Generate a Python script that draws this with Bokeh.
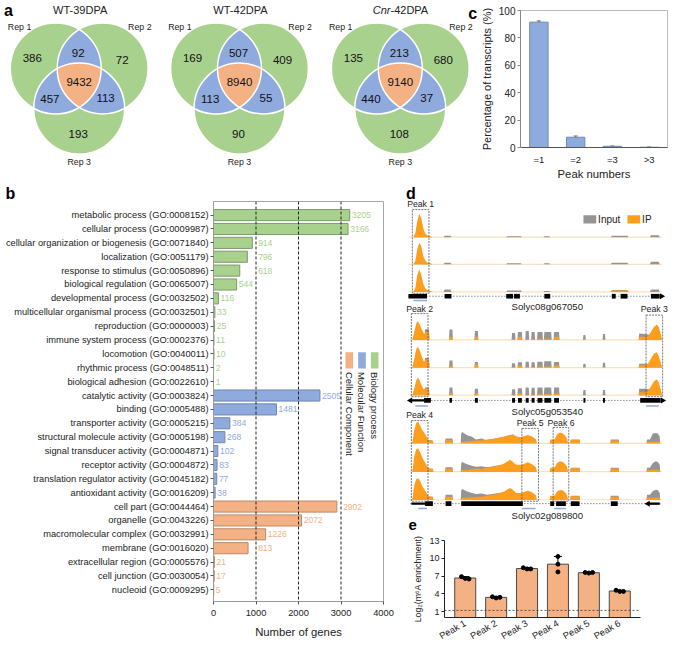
import numpy as np
from bokeh.plotting import figure
from bokeh.models import (Range1d, FactorRange, Span, FixedTicker, Whisker,
                          ColumnDataSource, TeeHead)
from bokeh.layouts import row, column
from bokeh.embed import file_html
from bokeh.resources import INLINE
from bokeh.core.properties import value

FONT = "Liberation Sans"
GREEN, BLUE, ORANGE = "#a9d18e", "#8faadc", "#f4b183"
GREEN_EDGE, BLUE_EDGE, ORANGE_EDGE = "#7e9a6c", "#6f86b0", "#b98a68"
IP_COLOR, INPUT_COLOR, BASE_COLOR = "#ff9d1c", "#959595", "#fbe0bd"

# ======================= DATA =======================
# ---- a: Venn diagrams (regions: only Rep1, only Rep2, only Rep3, Rep1&2, Rep1&3, Rep2&3, all)
VENN_TITLE_ITALIC = ["", "", "Cnr"]
VENN_TITLE_REST = ["WT-39DPA", "WT-42DPA", "-42DPA"]
VENN_REP_LABELS = ["Rep 1", "Rep 2", "Rep 3"]
VENN_WT_39DPA = [386, 72, 193, 92, 457, 113, 9432]
VENN_WT_42DPA = [169, 409, 90, 507, 113, 55, 8940]
VENN_CNR_42DPA = [135, 680, 108, 213, 440, 37, 9140]

# ---- b: GO classification
GO_TERMS = ["metabolic process", "cellular process", "cellular organization or biogenesis",
            "localization", "response to stimulus", "biological regulation",
            "developmental process", "multicellular organismal process", "reproduction",
            "immune system process", "locomotion", "rhythmic process", "biological adhesion",
            "catalytic activity", "binding", "transporter activity",
            "structural molecule activity", "signal transducer activity", "receptor activity",
            "translation regulator activity", "antioxidant activity",
            "cell part", "organelle", "macromolecular complex", "membrane",
            "extracellular region", "cell junction", "nucleoid"]
GO_IDS = ["GO:0008152", "GO:0009987", "GO:0071840", "GO:0051179", "GO:0050896", "GO:0065007",
          "GO:0032502", "GO:0032501", "GO:0000003", "GO:0002376", "GO:0040011", "GO:0048511",
          "GO:0022610", "GO:0003824", "GO:0005488", "GO:0005215", "GO:0005198", "GO:0004871",
          "GO:0004872", "GO:0045182", "GO:0016209", "GO:0044464", "GO:0043226", "GO:0032991",
          "GO:0016020", "GO:0005576", "GO:0030054", "GO:0009295"]
GO_GENES = [3205, 3166, 914, 796, 618, 544, 116, 33, 25, 11, 10, 2, 1,
            2505, 1481, 384, 268, 102, 83, 77, 38,
            2902, 2072, 1226, 813, 21, 17, 5]
GO_CLASS = ["BP"] * 13 + ["MF"] * 8 + ["CC"] * 7
GO_CLASS_LEGEND = ["CC", "MF", "BP"]
GO_CLASS_NAMES = {"CC": "Cellular Component", "MF": "Molecular Function", "BP": "Biology process"}
GO_GRID = [1000, 2000, 3000]

# ---- c: peaks per transcript
PEAK_NUMBERS = ["=1", "=2", "=3", ">3"]
PCT_TRANSCRIPTS = [91.5, 7.5, 0.9, 0.2]
PCT_SD = [0.9, 0.9, 0.2, 0.1]

# ---- d: coverage tracks (3 replicates each, IP and Input)
G1_X = [0, 7, 8, 10, 12, 14, 16, 18, 20, 22, 25, 28,
        39, 40, 46, 47, 103, 104, 118, 119, 141, 142, 147, 148,
        210, 211, 227, 228, 250, 251, 259, 260, 270]
G1_IP = [
    [0, 0, 0, 4, 16, 24, 20, 10, 4, 2, 1, 0, 0, 0, 0, 0, 0, 0, 0, 0, 0, 0, 0, 0, 0, 0, 0, 0, 0, 0, 0, 0, 0],
    [0, 0, 0, 3, 15, 22, 19, 9, 4, 2, 1, 0, 0, 0, 0, 0, 0, 0, 0, 0, 0, 0, 0, 0, 0, 0, 0, 0, 0, 0, 0, 0, 0],
    [0, 0, 0, 4, 17, 23, 18, 9, 4, 2, 1, 0, 0, 0, 0, 0, 0, 0, 0, 0, 0, 0, 0, 0, 0, 1.5, 1.5, 0, 0, 0, 0, 0, 0],
]
G1_IN = [
    [0, 0, 0, 0.5, 1, 1, 1, 1, 1, 1, 0.5, 0, 0, 1.5, 1.5, 0, 0, 1, 1, 0, 0, 1, 1, 0, 0, 1.5, 1.5, 0, 0, 2, 2, 0, 0],
    [0, 0, 0, 0.5, 1, 1, 1, 1, 1, 1, 0.5, 0, 0, 1.5, 1.5, 0, 0, 1, 1, 0, 0, 1, 1, 0, 0, 1.5, 1.5, 0, 0, 2.5, 2.5, 0, 0],
    [0, 0, 0, 0.5, 1, 1, 1, 1, 1, 1, 0.5, 0, 0, 2.5, 2.5, 0, 0, 1.5, 1.5, 0, 0, 1, 1, 0, 0, 2, 2, 0, 0, 2.5, 2.5, 0, 0],
]
G2_X = [0, 6, 7, 9, 11, 12.5, 14, 16, 18, 19.5, 20, 24, 24.5,
        44.5, 45, 48, 48.5, 70.5, 71, 74, 74.5, 108.5, 109, 112, 112.5,
        114.5, 115, 119, 119.5, 122.5, 123, 126, 126.5, 128.5, 129, 132, 132.5,
        134.5, 135, 140, 140.5, 141.5, 142, 149, 149.5, 151.5, 152, 157, 157.5,
        181.5, 182, 184, 184.5, 201.5, 202, 204, 204.5,
        238.5, 239, 245, 248, 251, 254, 257, 259, 261, 262.5, 270]
G2_IP = [
    [0, 0, 0, 8, 17, 19, 17, 12, 8, 5, 8, 8, 0,
     0, 3, 3, 0, 0, 3, 3, 0, 0, 0.5, 0.5, 0,
     0, 3, 3, 0, 0, 0.5, 0.5, 0, 0, 0.5, 0.5, 0,
     0, 1, 1, 0, 0, 1, 1, 0, 0, 3, 3, 0,
     0, 0, 0, 0, 0, 0, 0, 0,
     0, 3, 3, 4, 8, 13, 15.7, 13, 6, 0, 0],
    [0, 0, 0, 9, 19, 21, 19, 13, 8, 5, 8.3, 8.3, 0,
     0, 2, 2, 0, 0, 3, 3, 0, 0, 0.5, 0.5, 0,
     0, 2, 2, 0, 0, 0.5, 0.5, 0, 0, 0.5, 0.5, 0,
     0, 1, 1, 0, 0, 1, 1, 0, 0, 2, 2, 0,
     0, 0, 0, 0, 0, 0, 0, 0,
     0, 2.5, 2.5, 4, 9, 14, 15.7, 12, 5, 0, 0],
    [0, 0, 0, 7, 15, 18, 16, 11, 7, 5, 6.7, 6.7, 0,
     0, 2, 2, 0, 0, 2, 2, 0, 0, 0.5, 0.5, 0,
     0, 2, 2, 0, 0, 0.5, 0.5, 0, 0, 0.5, 0.5, 0,
     0, 1, 1, 0, 0, 1, 1, 0, 0, 2, 2, 0,
     0, 0, 0, 0, 0, 0, 0, 0,
     0, 3, 3, 4, 9, 14, 16.3, 13, 6, 0, 0],
]
G2_IN = [
    [0, 0, 0, 5, 7, 8, 8, 7, 6, 6, 10.7, 10.7, 0,
     0, 10.5, 10.5, 0, 0, 9, 9, 0, 0, 7, 7, 0,
     0, 8, 8, 0, 0, 9, 9, 0, 0, 8, 8, 0,
     0, 8, 8, 0, 0, 8, 8, 0, 0, 8, 8, 0,
     0, 5, 5, 0, 0, 6, 6, 0,
     0, 6.5, 6, 5.5, 5, 5, 5, 4, 3, 0, 0],
    [0, 0, 0, 5, 7, 8, 8, 7, 6, 6, 9.7, 9.7, 0,
     0, 7.3, 7.3, 0, 0, 5.7, 5.7, 0, 0, 4.5, 4.5, 0,
     0, 5.5, 5.5, 0, 0, 6, 6, 0, 0, 5.5, 5.5, 0,
     0, 6, 6, 0, 0, 6.5, 6.5, 0, 0, 5.7, 5.7, 0,
     0, 4, 4, 0, 0, 5, 5, 0,
     0, 4, 4, 4, 4, 4, 4, 3, 2, 0, 0],
    [0, 0, 0, 5, 7, 8, 8, 7, 6, 6, 8, 8, 0,
     0, 8, 8, 0, 0, 6.7, 6.7, 0, 0, 6, 6, 0,
     0, 7, 7, 0, 0, 8, 8, 0, 0, 7.5, 7.5, 0,
     0, 8, 8, 0, 0, 8, 8, 0, 0, 8, 8, 0,
     0, 5.3, 5.3, 0, 0, 5.3, 5.3, 0,
     0, 6.7, 6.5, 6, 5.5, 5, 5, 4, 3, 0, 0],
]
G3_X = [0, 6, 7, 9, 11, 13, 15, 17, 19, 21, 23, 24, 28, 28.5,
        40.5, 41, 48, 48.5,
        56.5, 57, 58, 63, 68, 72, 78, 83, 87, 92, 100, 107, 110, 113, 118, 121, 125, 129, 132, 133.5, 134,
        147.5, 148, 152, 153, 155, 158, 161, 164, 165.5, 166,
        168.5, 169, 178, 178.5,
        209.5, 210, 218, 218.5,
        246.5, 247, 250, 253, 256, 258, 260, 260.5, 270]
G3_IP = [
    [0, 0, 0, 14, 21, 22, 18, 14, 11, 8, 4, 3, 2.5, 0,
     0, 3.3, 3.3, 0,
     0, 1.5, 1.7, 2, 2.5, 3, 3, 4, 4.5, 5, 6.5, 8.5, 9, 7, 6, 7, 8.3, 7, 5, 4, 0,
     0, 4, 4, 5, 9, 11, 10, 7, 4, 0,
     0, 3.5, 3.5, 0,
     0, 3, 3, 0,
     0, 2, 2, 2, 2, 2, 2, 0, 0],
    [0, 0, 0, 16, 23, 24, 20, 15, 11, 8, 4, 3, 2.5, 0,
     0, 3, 3, 0,
     0, 1.5, 1.7, 2, 2.5, 3, 3, 4, 4.5, 5.5, 8, 12.3, 10, 7, 7, 8, 9.7, 8, 5.5, 4, 0,
     0, 4, 4, 5, 9, 10.7, 10, 7, 4, 0,
     0, 3.5, 3.5, 0,
     0, 3, 3, 0,
     0, 2, 2, 2, 2, 2, 2, 0, 0],
    [0, 0, 0, 15, 21, 22, 19, 14, 11, 8, 4, 3, 2.5, 0,
     0, 3, 3, 0,
     0, 1.5, 1.7, 2, 2.5, 3, 3, 4, 4.5, 5.5, 8, 12, 10, 7, 7, 8, 9.3, 8, 5.5, 4, 0,
     0, 4, 4, 5, 8.5, 10, 9.5, 7, 4, 0,
     0, 3.5, 3.5, 0,
     0, 3, 3, 0,
     0, 2, 2, 2, 2, 2, 2, 0, 0],
]
G3_IN = [
    [0, 0, 0, 6, 8, 8, 8, 7, 6, 5, 4, 3.5, 3, 0,
     0, 5, 5, 0,
     0, 10, 11.7, 8.3, 6.7, 4, 5, 3, 4, 5, 6.7, 8.5, 9, 7, 6, 7, 8.3, 7, 5, 4, 0,
     0, 3, 3, 3, 4, 5, 4, 3, 2, 0,
     0, 4, 4, 0,
     0, 4, 4, 0,
     0, 4, 4, 10, 10.7, 10, 7, 0, 0],
    [0, 0, 0, 6, 8, 8, 8, 7, 6, 5, 4, 3.5, 3, 0,
     0, 4.5, 4.5, 0,
     0, 9, 10, 7.5, 6, 5, 5.5, 4.5, 5, 6, 7, 9, 8, 7, 6.5, 7, 8, 7, 5, 4, 0,
     0, 3, 3, 3, 4, 5, 4, 3, 2, 0,
     0, 4, 4, 0,
     0, 4, 4, 0,
     0, 4, 4, 9, 10.7, 10, 7, 0, 0],
    [0, 0, 0, 6, 8, 8, 8, 7, 6, 5, 4, 3.5, 3, 0,
     0, 5, 5, 0,
     0, 10, 11, 8.5, 7, 6, 6.5, 5, 5.5, 6.5, 7.5, 9, 8, 7, 6.5, 7, 8, 7, 5, 4, 0,
     0, 3, 3, 3, 4, 5, 4, 3, 2, 0,
     0, 4, 4, 0,
     0, 4, 4, 0,
     0, 5, 5, 9, 10.3, 10, 7, 0, 0],
]
GENE_NAMES = ["Solyc08g067050", "Solyc05g053540", "Solyc02g089800"]
G1_EXONS = [(3, 22), (40, 47), (103, 110), (111, 117), (142, 148), (211, 215), (220, 227), (251, 260)]
G2_EXONS = [(19, 26), (45, 47.5), (71, 74), (109, 112), (115, 119), (123, 126), (129, 132),
            (135, 140), (142, 149), (152, 157), (182, 184), (202, 204), (240, 261)]
G3_EXONS = [(20, 28), (41, 47), (57, 120), (148, 152), (154, 164), (169, 178), (210, 217)]
G1_UTRS = []
G2_UTRS = [(6, 19)]
G3_UTRS = [(6, 20), (247, 260)]
PEAK_NAMES = ["Peak 1", "Peak 2", "Peak 3", "Peak 4", "Peak 5", "Peak 6"]
PEAK_GENE = [0, 1, 1, 2, 2, 2]
PEAK_START = [7, 6, 246, 6, 119, 151]
PEAK_END = [24, 23, 263, 23, 136, 167]
MOTIF_START = [8, 10, 246, 13, 119, 152]
MOTIF_END = [22, 23, 259, 22, 133, 164]

# ---- e: m6A-IP-qPCR
E_PEAKS = ["Peak 1", "Peak 2", "Peak 3", "Peak 4", "Peak 5", "Peak 6"]
E_REP1 = [6.9, 3.5, 8.4, 10.3, 7.6, 4.6]
E_REP2 = [6.6, 3.3, 8.2, 9.0, 7.5, 4.4]
E_REP3 = [6.5, 3.4, 8.2, 7.7, 7.6, 4.4]
E_CUTOFF = 1.2


# ======================= HELPERS =======================
def fig(**kw):
    p = figure(output_backend="svg", toolbar_location=None, **kw)
    try:
        p.frame_align = False
    except Exception:
        pass
    p.grid.visible = False
    p.background_fill_color = "white"
    p.border_fill_color = "white"
    return p


def bare(p):
    p.axis.visible = False
    p.outline_line_color = None


def letter_title(p, letter, offset):
    p.title.text = letter
    p.title.text_font = FONT
    p.title.text_font_size = "16px"
    p.title.text_font_style = "bold"
    p.title.text_color = "black"
    p.title.align = "left"
    p.title.offset = offset
    p.title.standoff = 0


def text(p, x, y, t, size, color="#222222", align="center", baseline="middle",
         style="normal", angle=0.0):
    p.text(x=x, y=y, text=t, text_font=value(FONT), text_font_size=size,
           text_color=color, text_align=align, text_baseline=baseline,
           text_font_style=style, angle=angle)


def style_axis(ax, label_size="9px", title_size="11px", line="#333333"):
    ax.major_label_text_font = FONT
    ax.axis_label_text_font = FONT
    ax.major_label_text_font_size = label_size
    ax.axis_label_text_font_size = title_size
    ax.axis_label_text_font_style = "normal"
    ax.major_label_text_color = "#222222"
    ax.axis_label_text_color = "#222222"
    ax.axis_line_color = line
    ax.major_tick_line_color = line
    ax.minor_tick_line_color = None
    ax.major_tick_in = 0
    ax.major_tick_out = 3
    ax.major_label_standoff = 2
    ax.axis_label_standoff = 4


def disk_intersection(centers, r, n=1440):
    t = np.linspace(0, 2 * np.pi, n, endpoint=False)
    px, py = [], []
    for i, (cx, cy) in enumerate(centers):
        x = cx + r * np.cos(t)
        y = cy + r * np.sin(t)
        m = np.ones(n, dtype=bool)
        for j, (ox, oy) in enumerate(centers):
            if j != i:
                m &= (x - ox) ** 2 + (y - oy) ** 2 <= r * r + 1e-9
        px.append(x[m])
        py.append(y[m])
    px = np.concatenate(px)
    py = np.concatenate(py)
    order = np.argsort(np.arctan2(py - py.mean(), px - px.mean()))
    return px[order].tolist(), py[order].tolist()


# ======================= a: Venn (+ letter c) =======================
pa = fig(width=477, height=176, x_range=Range1d(0, 488), y_range=Range1d(180, 0), min_border=0)
bare(pa)
VX = [80.5, 244.5, 409.0]
VY, VR = 83.2, 46.5
CIRCLE_OFF = [(-24, -13.7), (24, -13.7), (0, 27.3)]
REGION_OFF = [(-48, -24), (44, -22), (-1, 53.5), (-1, -30), (-30, 18), (27, 17), (0, 0)]
REP_OFF = [(-61, -56.2), (62, -56.2), (0, 81.8)]
for k, counts in enumerate([VENN_WT_39DPA, VENN_WT_42DPA, VENN_CNR_42DPA]):
    cs = [(VX[k] + dx, VY + dy) for dx, dy in CIRCLE_OFF]
    pa.circle(x=[c[0] for c in cs], y=[c[1] for c in cs], radius=VR,
              fill_color=GREEN, line_color=None)
    for pair in [(0, 1), (0, 2), (1, 2)]:
        xs, ys = disk_intersection([cs[i] for i in pair], VR)
        pa.patch(xs, ys, fill_color=BLUE, line_color=None)
    xs, ys = disk_intersection(cs, VR)
    pa.patch(xs, ys, fill_color=ORANGE, line_color=None)
    pa.circle(x=[c[0] for c in cs], y=[c[1] for c in cs], radius=VR,
              fill_color=None, line_color="white", line_width=1.5)
    text(pa, [VX[k] + dx for dx, dy in REGION_OFF], [VY + dy for dx, dy in REGION_OFF],
         [str(c) for c in counts], "11.5px", color="#111111")
    text(pa, [VX[k] + dx for dx, dy in REP_OFF], [VY + dy for dx, dy in REP_OFF],
         VENN_REP_LABELS, "8.8px", color="#222222")
    if VENN_TITLE_ITALIC[k]:
        split = VX[k] - 10
        text(pa, [split], [10], [VENN_TITLE_ITALIC[k]], "11px", align="right", style="italic")
        text(pa, [split], [10], [VENN_TITLE_REST[k]], "11px", align="left")
    else:
        text(pa, [VX[k] + 1], [10], [VENN_TITLE_REST[k]], "11px")
text(pa, [3.5, 478.5], [10.5, 13.5], ["a", "c"], "16px", color="black", align="left",
     baseline="alphabetic", style="bold")

# ======================= c: peak numbers =======================
pc = fig(width=192, height=182, x_range=FactorRange(*PEAK_NUMBERS), y_range=Range1d(0, 100),
         min_border_left=38, min_border_right=2, min_border_top=10, min_border_bottom=28)
pc.outline_line_color = "#bbbbbb"
pc.vbar(x=PEAK_NUMBERS, top=PCT_TRANSCRIPTS, width=0.5, fill_color=BLUE, line_color=BLUE_EDGE,
        line_width=1)
csrc = ColumnDataSource(dict(x=PEAK_NUMBERS,
                             lo=[v - s for v, s in zip(PCT_TRANSCRIPTS, PCT_SD)],
                             hi=[v + s for v, s in zip(PCT_TRANSCRIPTS, PCT_SD)]))
pc.add_layout(Whisker(source=csrc, base="x", lower="lo", upper="hi", line_color="#444444",
                      line_width=0.8,
                      upper_head=TeeHead(size=4, line_color="#444444", line_width=0.8),
                      lower_head=TeeHead(size=4, line_color="#444444", line_width=0.8)))
style_axis(pc.yaxis[0], "10px", "11px", "#888888")
style_axis(pc.xaxis[0], "9.5px", "11.3px", "#555555")
pc.yaxis.ticker = FixedTicker(ticks=[0, 20, 40, 60, 80, 100])
pc.yaxis.axis_label = "Percentage of transcripts (%)"
pc.xaxis.axis_label = "Peak numbers"
pc.xaxis.major_tick_line_color = None
pc.xaxis.major_label_standoff = 3
pc.xaxis.axis_label_standoff = 0
pc.yaxis.axis_label_standoff = 3

# ======================= b: GO =======================
n = len(GO_TERMS)
idx = list(range(n))
pb = fig(width=405, height=466, x_range=Range1d(0, 4000), y_range=Range1d(n - 1 + 0.84, -0.98),
         min_border_left=213, min_border_right=22, min_border_top=16, min_border_bottom=47)
pb.outline_line_color = "#a8a8a8"
letter_title(pb, "b", -208)
fills = {"BP": GREEN, "MF": BLUE, "CC": ORANGE}
edges = {"BP": GREEN_EDGE, "MF": BLUE_EDGE, "CC": ORANGE_EDGE}
for L in GO_GRID:
    pb.add_layout(Span(location=L, dimension="height", line_color="#222222", line_dash="3 2",
                       line_width=1))
bsrc = ColumnDataSource(dict(y=idx, right=GO_GENES, fill=[fills[c] for c in GO_CLASS],
                             edge=[edges[c] for c in GO_CLASS]))
pb.hbar(y="y", left=0, right="right", height=0.8, fill_color="fill", line_color="edge",
        line_width=1, source=bsrc)
GAP, NEAR = 50, 400
lab_x = []
for v in GO_GENES:
    nxt = [L for L in GO_GRID if L > v]
    if nxt and nxt[0] - v < NEAR:
        lab_x.append(nxt[0] + GAP)
    else:
        lab_x.append(v + GAP)
text(pb, lab_x, idx, [str(v) for v in GO_GENES], "8.5px",
     color=[fills[c] for c in GO_CLASS], align="left")
style_axis(pb.yaxis[0], "9.3px", "11px", "#999999")
style_axis(pb.xaxis[0], "9.3px", "11.3px", "#999999")
pb.yaxis.major_tick_line_color = "#555555"
pb.xaxis.major_tick_line_color = "#555555"
pb.yaxis.ticker = FixedTicker(ticks=idx)
pb.yaxis.major_label_overrides = {i: f"{t} ({g})" for i, (t, g) in enumerate(zip(GO_TERMS, GO_IDS))}
pb.xaxis.ticker = FixedTicker(ticks=[0, 1000, 2000, 3000, 4000])
pb.xaxis.axis_label = "Number of genes"
pb.xaxis.major_label_standoff = 5
pb.xaxis.axis_label_standoff = 7
leg_x = [3195, 3494, 3793]
pb.rect(x=leg_x, y=[10.47] * 3, width=180, height=1.16,
        fill_color=[fills[c] for c in GO_CLASS_LEGEND], line_color=None)
text(pb, leg_x, [11.3] * 3, [GO_CLASS_NAMES[c] for c in GO_CLASS_LEGEND], "9.5px",
     color="#222222", align="left", baseline="middle", angle=-np.pi / 2)

# ======================= d: tracks (+ letter e) =======================
pdd = fig(width=264, height=353, x_range=Range1d(0, 270), y_range=Range1d(547.6, 186.3),
          min_border=0)
bare(pdd)
genes = [
    dict(x=G1_X, ip=G1_IP, inp=G1_IN, base=[242.3, 270.0, 298.3], model=302.7, ul=307.0,
         name_y=313.5, exons=G1_EXONS, utrs=G1_UTRS, span=(3, 262), arrows=[(262, -1)]),
    dict(x=G2_X, ip=G2_IP, inp=G2_IN, base=[347.3, 375.7, 404.0], model=409.3, ul=415.0,
         name_y=420.5, exons=G2_EXONS, utrs=G2_UTRS, span=(5, 263), arrows=[(5, 1), (263, -1)]),
    dict(x=G3_X, ip=G3_IP, inp=G3_IN, base=[453.3, 482.3, 511.0], model=515.0, ul=520.0,
         name_y=527.0, exons=G3_EXONS, utrs=G3_UTRS, span=(5, 262), arrows=[(248, 1)]),
]
for gi, g in enumerate(genes):
    xs = np.array(g["x"], dtype=float)
    for r in range(3):
        assert len(g["ip"][r]) == len(xs) and len(g["inp"][r]) == len(xs), (gi, r)
        b = g["base"][r]
        pdd.line([3, 262], [b, b], line_color=BASE_COLOR, line_width=1.2)
        pdd.varea(x=xs, y1=np.full(len(xs), b), y2=b - np.array(g["inp"][r], dtype=float),
                  fill_color=INPUT_COLOR)
        pdd.varea(x=xs, y1=np.full(len(xs), b), y2=b - np.array(g["ip"][r], dtype=float),
                  fill_color=IP_COLOR)
    y0 = g["model"]
    pdd.line(list(g["span"]), [y0, y0], line_color="#222222", line_width=0.8, line_dash="1 2")
    ex = g["exons"]
    pdd.quad(left=[a for a, _ in ex], right=[e for _, e in ex], top=y0 - 2.4, bottom=y0 + 2.4,
             fill_color="black", line_color=None)
    if g["utrs"]:
        ut = g["utrs"]
        pdd.quad(left=[a for a, _ in ut], right=[e for _, e in ut], top=y0 - 1.2,
                 bottom=y0 + 1.2, fill_color="black", line_color=None)
    for ax_, d in g["arrows"]:
        pdd.scatter(x=[ax_], y=[y0], marker="triangle", size=6, angle=d * np.pi / 2,
                    fill_color="black", line_color=None)
    text(pdd, [145], [g["name_y"]], [GENE_NAMES[gi]], "9.6px", color="#222222")

box_top = [214.0, 320.5, 322.0, 430.0, 438.0, 437.0]
label_y = [208.5, 316.0, 316.0, 424.0, 432.5, 432.5]
for k, nm in enumerate(PEAK_NAMES):
    g = genes[PEAK_GENE[k]]
    bottom = g["base"][2] + 1.5
    pdd.quad(left=[PEAK_START[k]], right=[PEAK_END[k]], top=[box_top[k]], bottom=[bottom],
             fill_color=None, line_color="#555555", line_dash="2 1", line_width=0.8)
    pdd.line([MOTIF_START[k], MOTIF_END[k]], [g["ul"], g["ul"]], line_color=BLUE, line_width=1.5)
    text(pdd, [(PEAK_START[k] + PEAK_END[k]) / 2], [label_y[k]], [nm], "8.7px", color="#222222")
pdd.rect(x=[188.5, 233.5], y=[224, 224], width=13, height=8.5, fill_color=[INPUT_COLOR, IP_COLOR],
         line_color=None)
text(pdd, [197, 242], [224.5, 224.5], ["Input", "IP"], "10px", color="#222222", align="left")
text(pdd, [0.5], [197.5], ["d"], "16px", color="black", align="left", baseline="alphabetic",
     style="bold")
text(pdd, [3.0], [537.0], ["e"], "15px", color="black", align="left", baseline="middle",
     style="bold")

# ======================= e: qPCR =======================
pe = fig(width=264, height=113, x_range=FactorRange(*E_PEAKS, range_padding=0.057),
         y_range=Range1d(0, 13), min_border_left=39, min_border_right=29, min_border_top=5,
         min_border_bottom=28)
pe.outline_line_color = None
reps = np.array([E_REP1, E_REP2, E_REP3], dtype=float)
means = reps.mean(axis=0)
pe.add_layout(Span(location=E_CUTOFF, dimension="width", line_color="#333333", line_dash="2 2",
                   line_width=0.8))
pe.vbar(x=E_PEAKS, top=means, width=0.68, fill_color=ORANGE, line_color="#4a4a4a", line_width=1)
esrc = ColumnDataSource(dict(x=E_PEAKS, lo=reps.min(axis=0), hi=reps.max(axis=0)))
pe.add_layout(Whisker(source=esrc, base="x", lower="lo", upper="hi", line_color="black",
                      line_width=1,
                      upper_head=TeeHead(size=8, line_color="black", line_width=1),
                      lower_head=TeeHead(size=8, line_color="black", line_width=1)))
for r, off in enumerate([-0.12, 0.0, 0.12]):
    dx = [i + 0.5 + (off if (reps[:, i].max() - reps[:, i].min()) < 1 else 0.0)
          for i in range(len(E_PEAKS))]
    pe.scatter(x=dx, y=reps[r], size=4, fill_color="black", line_color="black")
style_axis(pe.yaxis[0], "9px", "8.8px", "#222222")
style_axis(pe.xaxis[0], "9.3px", "9px", "#222222")
pe.yaxis.ticker = FixedTicker(ticks=[1, 4, 7, 10, 13])
pe.yaxis.axis_label = "Log\u2082(m\u2076A enrichment)"
pe.yaxis.axis_label_standoff = 3
pe.xaxis.major_label_orientation = np.pi / 6
pe.xaxis.major_tick_line_color = None

layout = column(row(pa, pc), row(pb, column(pdd, pe)))
open("out.html", "w").write(file_html(layout, INLINE))
